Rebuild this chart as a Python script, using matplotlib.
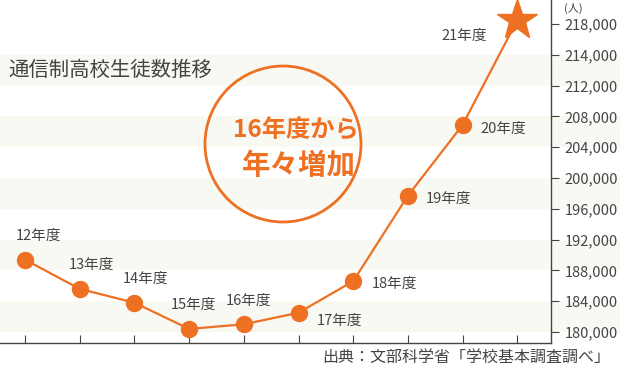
import matplotlib
matplotlib.use("Agg")
import matplotlib.pyplot as plt
from matplotlib.patches import Ellipse

plt.rcParams['font.family'] = ['Noto Sans CJK JP', 'DejaVu Sans']

years = ["12年度", "13年度", "14年度", "15年度", "16年度", "17年度", "18年度", "19年度", "20年度", "21年度"]
students = [189400, 185600, 183800, 180400, 181000, 182500, 186600, 197700, 206900, 220500]
ytick_values = [180000, 184000, 188000, 192000, 196000, 200000, 204000, 208000, 212000, 216000, 220000]
ytick_labels = ["180,000", "184,000", "188,000", "192,000", "196,000", "200,000",
                "204,000", "208,000", "212,000", "214,000", "218,000"]
title = "通信制高校生徒数推移"
source = "出典：文部科学省「学校基本調査調べ」"
unit = "(人)"
callout = ["16年度から", "年々増加"]

ORANGE = "#ee7023"
GREY = "#444444"
BAND = "#f9f9f4"

W, H = 620, 370
fig = plt.figure(figsize=(W / 100, H / 100), dpi=100)
ax_left, ax_right, ax_top, ax_bottom = 0, 551, 0, 343
ax = fig.add_axes([ax_left / W, 1 - ax_bottom / H, (ax_right - ax_left) / W, (ax_bottom - ax_top) / H])

x = list(range(len(years)))
ax.set_xlim(-0.457, 9.616)
ax.set_ylim(178570, 223120)

# bands
for i in range(0, len(ytick_values) - 1, 2):
    ax.axhspan(ytick_values[i], ytick_values[i + 1], xmin=0, xmax=W / ax_right,
               color=BAND, zorder=0, clip_on=False, lw=0)

ax.plot(x[:-1], students[:-1], color=ORANGE, lw=1.6, marker='o', ms=11.5, zorder=3)
ax.plot(x[-2:], students[-2:], color=ORANGE, lw=1.6, zorder=3)
ax.plot(x[-1], students[-1], marker='*', color=ORANGE, ms=30, zorder=4, clip_on=False, mec=ORANGE)

offsets = [(10, 12, 'center', 'bottom'), (8.6, 12, 'center', 'bottom'), (8, 12, 'center', 'bottom'),
           (3, 12, 'center', 'bottom'), (3.6, 12, 'center', 'bottom'),
           (13, -6, 'left', 'center'), (13, -2, 'left', 'center'), (13, -2, 'left', 'center'),
           (13, -3, 'left', 'center'), (-22, -11, 'right', 'center')]
for xi, yi, lab, (dx, dy, ha, va) in zip(x, students, years, offsets):
    ax.annotate(lab, (xi, yi), xytext=(dx, dy), textcoords='offset points',
                ha=ha, va=va, fontsize=10.5, color=GREY, zorder=5)

# axes styling
for s in ['left', 'top']:
    ax.spines[s].set_visible(False)
ax.spines['right'].set_color(GREY)
ax.spines['bottom'].set_color(GREY)
ax.spines['right'].set_linewidth(1)
ax.spines['bottom'].set_linewidth(1)
ax.yaxis.tick_right()
ax.set_yticks(ytick_values)
ax.set_yticklabels(ytick_labels)
ax.tick_params(axis='y', direction='out', length=6, color=GREY, labelcolor=GREY, labelsize=10.5, pad=4)
ax.set_xticks(x)
ax.set_xticklabels([])
ax.tick_params(axis='x', direction='in', length=6, color=GREY)
ax.patch.set_alpha(0)

fig.text(573 / W, 1 - 8 / H, unit, ha='center', va='center', fontsize=8, color=GREY)
fig.text(8 / W, 1 - 70 / H, title, ha='left', va='center', fontsize=14.7, color=GREY)
fig.text(610 / W, 1 - 357 / H, source, ha='right', va='center', fontsize=11.5, color=GREY)

circ = Ellipse((283 / W, 1 - 144 / H), 156 / W, 156 / H, transform=fig.transFigure,
               fill=False, edgecolor=ORANGE, lw=2, zorder=6)
fig.add_artist(circ)
fig.text(296 / W, 1 - 131 / H, callout[0], ha='center', va='center', fontsize=17.5,
         color=ORANGE, fontweight='bold')
fig.text(299 / W, 1 - 166 / H, callout[1], ha='center', va='center', fontsize=20.5,
         color=ORANGE, fontweight='bold')

fig.savefig("out.png", dpi=100)
